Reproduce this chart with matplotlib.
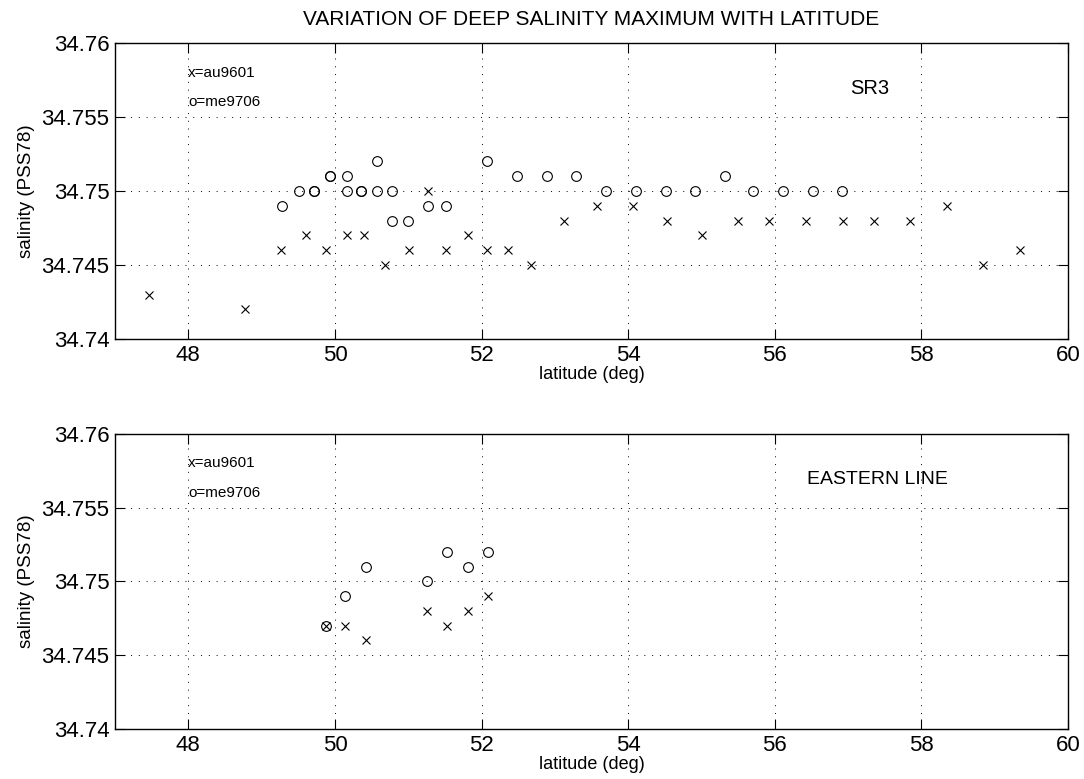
import matplotlib
matplotlib.use('Agg')
import matplotlib.pyplot as plt

plt.rcParams['font.family'] = ['Liberation Sans', 'DejaVu Sans']

# SR3 line, cruise au9601 (x) and me9706 (o)
SR3_AU_LAT = [47.46, 48.77, 49.26, 49.61, 49.88, 50.16, 50.40, 50.68, 51.01, 51.27,
              51.52, 51.81, 52.08, 52.36, 52.67, 53.13, 53.58, 54.07, 54.53, 55.01,
              55.50, 55.92, 56.43, 56.93, 57.35, 57.85, 58.35, 58.84, 59.35]
SR3_AU_SAL = [34.743, 34.742, 34.746, 34.747, 34.746, 34.747, 34.747, 34.745, 34.746, 34.750,
              34.746, 34.747, 34.746, 34.746, 34.745, 34.748, 34.749, 34.749, 34.748, 34.747,
              34.748, 34.748, 34.748, 34.748, 34.748, 34.748, 34.749, 34.745, 34.746]

SR3_ME_LAT = [49.28, 49.51, 49.72, 49.72, 49.93, 49.93, 50.16, 50.16, 50.36, 50.36,
              50.58, 50.58, 50.78, 50.78, 51.00, 51.27, 51.52, 52.07, 52.49, 52.89,
              53.29, 53.70, 54.10, 54.51, 54.91, 55.32, 55.70, 56.11, 56.52, 56.92]
SR3_ME_SAL = [34.749, 34.750, 34.750, 34.750, 34.751, 34.751, 34.751, 34.750, 34.750, 34.750,
              34.752, 34.750, 34.750, 34.748, 34.748, 34.749, 34.749, 34.752, 34.751, 34.751,
              34.751, 34.750, 34.750, 34.750, 34.750, 34.751, 34.750, 34.750, 34.750, 34.750]

# Eastern line
EAST_AU_LAT = [49.88, 50.14, 50.43, 51.26, 51.53, 51.82, 52.09]
EAST_AU_SAL = [34.747, 34.747, 34.746, 34.748, 34.747, 34.748, 34.749]

EAST_ME_LAT = [49.88, 50.14, 50.43, 51.26, 51.53, 51.82, 52.09]
EAST_ME_SAL = [34.747, 34.749, 34.751, 34.750, 34.752, 34.751, 34.752]

XTICKS = [48, 50, 52, 54, 56, 58, 60]
YTICKS = [34.74, 34.745, 34.75, 34.755, 34.76]
YTICKLABELS = ['34.74', '34.745', '34.75', '34.755', '34.76']

fig = plt.figure(figsize=(10.84, 7.79), dpi=100)
ax1 = fig.add_axes([0.1061, 0.5648, 0.8792, 0.3800])
ax2 = fig.add_axes([0.1061, 0.0642, 0.8792, 0.3787])


def style_axes(ax):
    ax.set_xlim(47, 60)
    ax.set_ylim(34.74, 34.76)
    ax.set_xticks(XTICKS)
    ax.set_xticklabels([str(t) for t in XTICKS])
    ax.set_yticks(YTICKS)
    ax.set_yticklabels(YTICKLABELS)
    ax.grid(True, color='black', linestyle=(0, (1, 7)), linewidth=0.7)
    ax.tick_params(direction='in', length=7, width=0.8, top=True, right=True,
                   labelsize=16, pad=4)
    for s in ax.spines.values():
        s.set_linewidth(1.0)
    ax.set_xlabel('latitude (deg)', fontsize=13, labelpad=0)
    ax.set_ylabel('salinity (PSS78)', fontsize=13.5, labelpad=5)
    ax.text(48, 34.758, 'x=au9601', fontsize=11, va='center')
    ax.text(48, 34.756, 'o=me9706', fontsize=11, va='center')


def draw(ax, au_lat, au_sal, me_lat, me_sal):
    ax.plot(au_lat, au_sal, 'x', color='black', markersize=6, markeredgewidth=0.8)
    ax.plot(me_lat, me_sal, 'o', color='black', markerfacecolor='none',
            markersize=7, markeredgewidth=0.8)


style_axes(ax1)
draw(ax1, SR3_AU_LAT, SR3_AU_SAL, SR3_ME_LAT, SR3_ME_SAL)
ax1.text(57.3, 34.7569, 'SR3', fontsize=14.5, ha='center', va='center')
ax1.set_title('VARIATION OF DEEP SALINITY MAXIMUM WITH LATITUDE', fontsize=15, pad=13)

style_axes(ax2)
draw(ax2, EAST_AU_LAT, EAST_AU_SAL, EAST_ME_LAT, EAST_ME_SAL)
ax2.text(57.4, 34.7569, 'EASTERN LINE', fontsize=14, ha='center', va='center')

fig.savefig('out.png', dpi=100)
